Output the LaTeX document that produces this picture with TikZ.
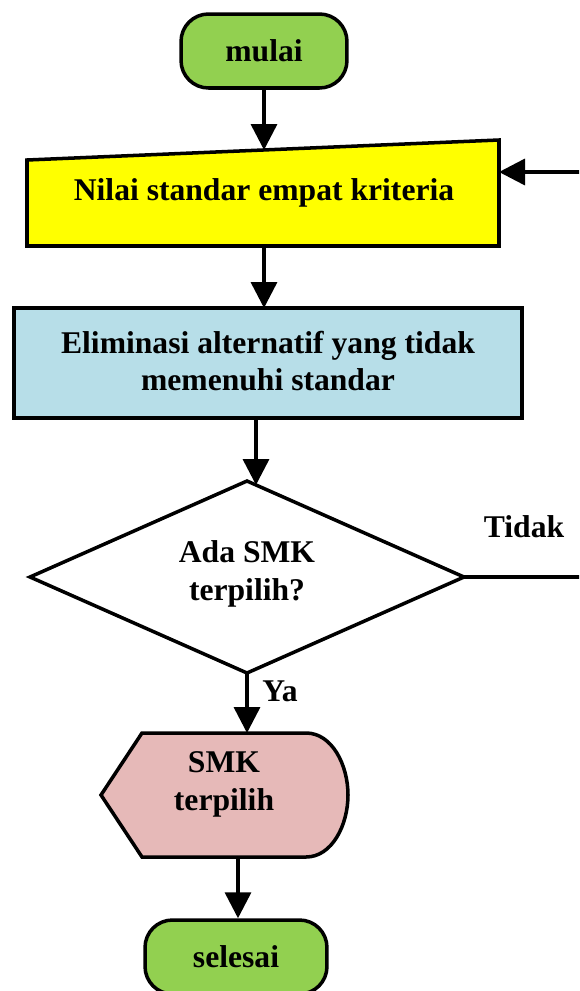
\documentclass[tikz,border=0pt]{standalone}
\usepackage{fontspec}
\setmainfont{Liberation Serif}
\usetikzlibrary{arrows.meta}
\definecolor{cgreen}{HTML}{92D050}
\definecolor{cyellow}{HTML}{FFFF00}
\definecolor{cblue}{HTML}{B7DEE8}
\definecolor{cpink}{HTML}{E6B9B8}
\tikzset{
  shapeline/.style={draw=black, line width=2pt, line join=miter},
  term/.style={shapeline, rounded corners=0.55cm, minimum height=1.48cm, inner sep=0pt},
  lbl/.style={font=\fontsize{18}{21.5}\selectfont\bfseries, align=center, inner sep=0pt},
  conn/.style={line width=2pt, -{Triangle[width=0.52cm,length=0.52cm]}},
  plain/.style={line width=2pt}
}
\begin{document}
\begin{tikzpicture}[x=0.02cm,y=-0.02cm]
\useasboundingbox (0,0) rectangle (579,991);
\begin{scope}
\clip (0,0) rectangle (579,991);
% terminals
\node[term, fill=cgreen, minimum width=3.32cm] (mulai) at (264,51) {};
\node[lbl] (mulaitxt) at (264,51) {mulai};
\node[term, fill=cgreen, minimum width=3.64cm] (selesai) at (236,957) {};
\node[lbl] (selesaitxt) at (236,957) {selesai};
% manual input
\draw[shapeline, fill=cyellow] (27,160) -- (499,140) -- (499,246) -- (27,246) -- cycle;
\coordinate (yin) at (264,150);
\coordinate (yout) at (264,246);
\coordinate (yright) at (499,172);
\node[lbl] (nilai) at (264,193) {Nilai standar empat kriteria};
% process
\draw[shapeline, fill=cblue] (14,308) rectangle (522,418);
\coordinate (bin) at (264,308);
\coordinate (bout) at (256,418);
\node[lbl] (elim) at (268,361) {Eliminasi alternatif yang tidak\\memenuhi standar};
% decision
\draw[shapeline, fill=white] (247,481) -- (464,577) -- (247,673) -- (30,577) -- cycle;
\coordinate (dtop) at (256,485);
\coordinate (dright) at (464,577);
\coordinate (dbottom) at (247,673);
\node[lbl] (ada) at (247,574) {Ada SMK\\terpilih?};
% display
\draw[shapeline, fill=cpink] (101,795) -- (142,733) -- (306,733)
   .. controls (332,733) and (348,765) .. (348,795)
   .. controls (348,825) and (332,857) .. (306,857) -- (142,857) -- cycle;
\coordinate (sin) at (247,733);
\coordinate (sout) at (238,857);
\node[lbl] (smk) at (224,784) {SMK\\terpilih};
% loop ends at the edge
\coordinate (edgeA) at (580,577);
\coordinate (edgeB) at (580,172);
% connectors
\draw[conn] (mulai.south) -- (yin);
\draw[conn] (yout) -- (bin);
\draw[conn] (bout) -- (dtop);
\draw[conn] (dbottom) -- (sin);
\draw[conn] (sout) -- (selesai.north -| sout);
\draw[plain] (dright) -- (edgeA);
\draw[conn] (edgeB) -- (yright);
% labels
\node[lbl, anchor=center] (tidak) at (524,527) {Tidak};
\node[lbl, anchor=center] (ya) at (280,691) {Ya};
\end{scope}
\end{tikzpicture}
\end{document}
